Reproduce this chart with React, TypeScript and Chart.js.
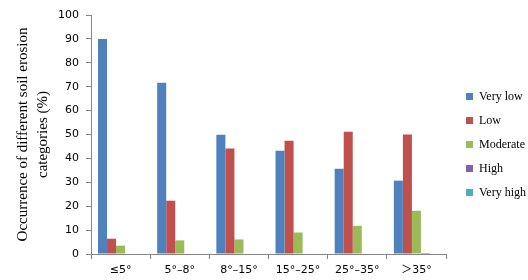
import React, { useEffect, useRef } from "react";
import { Chart, registerables } from "chart.js";

Chart.register(...registerables);

const categories = ["≤5°", "5°–8°", "8°–15°", "15°–25°", "25°–35°", "＞35°"];
const veryLow = [90.0, 71.7, 49.9, 43.2, 35.7, 30.7];
const low = [6.4, 22.3, 44.1, 47.4, 51.2, 50.0];
const moderate = [3.5, 5.7, 6.1, 9.0, 11.8, 18.1];
const high = [0, 0, 0, 0, 0, 0.4];
const veryHigh = [0, 0, 0, 0, 0, 0];
const yTicks = [0, 10, 20, 30, 40, 50, 60, 70, 80, 90, 100];

const legendShift = {
  id: "legendShift",
  afterLayout(chart: any) {
    const lg = chart.legend;
    if (!lg) return;
    lg.left += 8;
    lg.right += 8;
    lg.top -= 3;
    lg.bottom -= 3;
  },
};

export default function App() {
  const ref = useRef<HTMLCanvasElement | null>(null);
  useEffect(() => {
    document.body.style.margin = "0";
    const canvas = ref.current!;
    const axisColor = "#868686";
    const chart = new Chart(canvas, {
      type: "bar",
      data: {
        labels: categories,
        datasets: [
          { label: "Very low", data: veryLow, backgroundColor: "#4F81BD" },
          { label: "Low", data: low, backgroundColor: "#C0504D" },
          { label: "Moderate", data: moderate, backgroundColor: "#9BBB59" },
          { label: "High", data: high, backgroundColor: "#8064A2" },
          { label: "Very high", data: veryHigh, backgroundColor: "#4BACC6" },
        ],
      },
      plugins: [legendShift],
      options: {
        animation: false,
        responsive: false,
        maintainAspectRatio: false,
        layout: { padding: { top: 15, right: 0, bottom: 0, left: 0 } },
        datasets: { bar: { categoryPercentage: 0.763, barPercentage: 1, borderWidth: 0 } },
        plugins: {
          tooltip: { enabled: false },
          legend: {
            position: "right",
            labels: {
              boxWidth: 7,
              boxHeight: 7,
              padding: 12,
              color: "#000",
              font: { family: "'Liberation Serif', serif", size: 12 },
            },
          },
        },
        scales: {
          x: {
            grid: {
              display: true,
              drawOnChartArea: false,
              drawTicks: true,
              tickLength: 5,
              color: axisColor,
              offset: true,
            },
            border: { color: axisColor },
            ticks: {
              color: "#000",
              padding: 5,
              maxRotation: 0,
              autoSkip: false,
              font: { family: "'DejaVu Sans', 'Noto Sans CJK SC', sans-serif", size: 11 },
            },
            afterFit: (s: any) => {
              s.height = 26;
            },
          },
          y: {
            min: 0,
            max: 100,
            afterBuildTicks: (s: any) => {
              s.ticks = yTicks.map((v) => ({ value: v }));
            },
            grid: {
              display: true,
              drawOnChartArea: false,
              drawTicks: true,
              tickLength: 5,
              color: axisColor,
            },
            border: { color: axisColor },
            ticks: {
              color: "#000",
              padding: 7,
              font: { family: "'DejaVu Sans', sans-serif", size: 11 },
            },
            title: {
              display: true,
              text: ["Occurrence of different soil erosion", "categories (%)"],
              color: "#000",
              padding: { top: 13, bottom: 0 },
              font: { family: "'Liberation Serif', serif", size: 15, lineHeight: "20px" },
            },
            afterFit: (s: any) => {
              s.width = 91;
            },
          },
        },
      },
    });
    return () => chart.destroy();
  }, []);
  return <canvas ref={ref} width={528} height={280} style={{ display: "block" }} />;
}
